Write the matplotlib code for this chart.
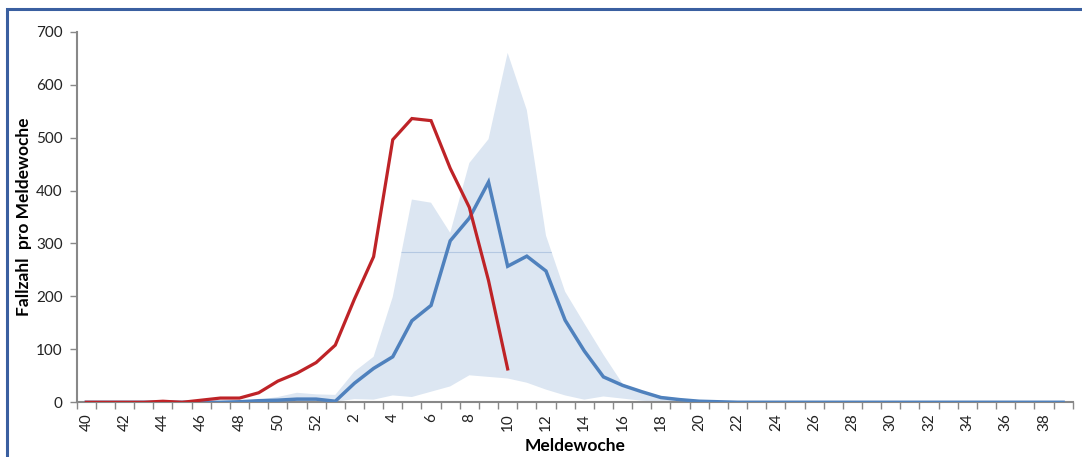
# Fallzahl pro Meldewoche: aktuelle Saison vs. Vorsaisons (Median + Spannweite)

import matplotlib.pyplot as plt
import matplotlib.patches as mpatches
import numpy as np

# Meldewochen 40..52, dann 1..39
weeks = list(range(40, 53)) + list(range(1, 40))

# aktuelle Saison (bis KW 10)
current = [0, 0, 0, 0, 2, 0, 4, 8, 8, 18, 40, 55, 75, 108,
           195, 275, 496, 536, 532, 442, 368, 230, 63]

# Vergleichskurve (blau)
median = [0, 0, 0, 0, 0, 0, 0, 0, 1, 3, 4, 6, 6, 2,
          36, 64, 86, 154, 183, 305, 348, 416, 257, 276, 248, 155,
          97, 48, 32, 20, 9, 5, 2, 1,
          0, 0, 0, 0, 0, 0, 0, 0, 0, 0, 0, 0, 0, 0, 0, 0, 0, 0]

# Spannweite (Min/Max)
band_hi = [0, 0, 0, 0, 0, 0, 1, 2, 3, 5, 10, 18, 15, 14,
           58, 86, 199, 383, 377, 320, 452, 497, 660, 552, 315, 209,
           149, 90, 35, 20, 12, 7, 4, 2,
           0, 0, 0, 0, 0, 0, 0, 0, 0, 0, 0, 0, 0, 0, 0, 0, 0, 0]
band_lo = [0, 0, 0, 0, 0, 0, 0, 0, 0, 0, 1, 2, 2, 1,
           6, 5, 13, 10, 20, 30, 51, 48, 45, 37, 24, 13,
           5, 11, 7, 3, 1, 0, 0, 0,
           0, 0, 0, 0, 0, 0, 0, 0, 0, 0, 0, 0, 0, 0, 0, 0, 0, 0]

band_line = 283  # schwache Linie innerhalb der Flaeche

plt.rcParams["font.family"] = ["Lato", "DejaVu Sans"]

fig = plt.figure(figsize=(10.82, 4.57), dpi=100)
ax = fig.add_axes([0.0709, 0.1197, 0.9205, 0.8109])

x = np.arange(len(weeks))

poly = ax.fill_between(x, band_lo, band_hi, color="#DCE6F2",
                       edgecolor="none", zorder=1)
hl = ax.axhline(band_line, color="#B4C8E2", linewidth=0.8, zorder=1.5)
hl.set_clip_path(poly.get_paths()[0], ax.transData)

ax.plot(x, median, color="#4F81BD", linewidth=2.5, zorder=3,
        solid_joinstyle="miter")
ax.plot(x[:len(current)], current, color="#BE2327", linewidth=2.3,
        zorder=4, solid_joinstyle="miter")

ax.set_xlim(-0.5, len(weeks) - 0.5)
ax.set_ylim(0, 700)

# Beschriftungen in der Mitte, Ticks auf den Grenzen (Excel-Stil)
ax.set_xticks(x[::2])
ax.set_xticklabels([str(w) for w in weeks[::2]], rotation=90, fontsize=11)
ax.set_xticks(np.arange(len(weeks) + 1) - 0.5, minor=True)
ax.tick_params(axis="x", which="major", length=0, pad=8, colors="#222222")
ax.tick_params(axis="x", which="minor", length=5, width=1, color="#888888")
ax.set_yticks(range(0, 701, 100))
ax.tick_params(axis="y", length=5, width=1, color="#888888",
               labelsize=11, labelcolor="#222222", pad=5)

for s in ["top", "right"]:
    ax.spines[s].set_visible(False)
for s in ["left", "bottom"]:
    ax.spines[s].set_color("#888888")
    ax.spines[s].set_linewidth(1.5)

ax.set_xlabel("Meldewoche", fontsize=12.5, fontweight="bold", labelpad=5)
ax.set_ylabel("Fallzahl  pro Meldewoche", fontsize=12.5, fontweight="bold",
              labelpad=3)

# Rahmen
fig.patches.append(mpatches.Rectangle((7 / 1082, -0.1), 1.2, 1 - 9 / 457 + 0.1,
                                      transform=fig.transFigure, fill=False,
                                      edgecolor="#3A5FA0", linewidth=2.2))

fig.savefig("out.png", dpi=100)
